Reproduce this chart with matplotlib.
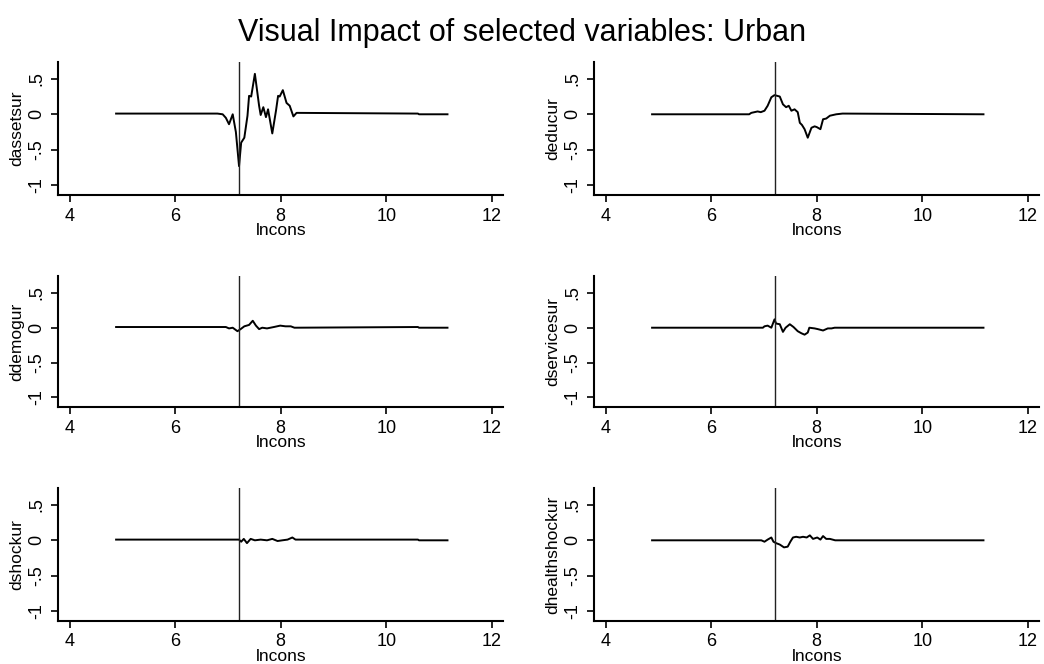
import numpy as np
import matplotlib.pyplot as plt

plt.rcParams['font.family'] = ['Liberation Sans', 'DejaVu Sans']

# 읽어낸 곡선 값 (lncons, 변수값)
dassetsur_x = [4.88, 6.80, 6.90, 6.96, 7.02, 7.09, 7.15, 7.21, 7.25, 7.31, 7.37, 7.40, 7.44,
               7.51, 7.59, 7.62, 7.67, 7.72, 7.76, 7.84, 7.91, 7.95, 7.98, 8.04, 8.11,
               8.17, 8.24, 8.30, 10.60, 10.62, 11.16]
dassetsur_y = [0.01, 0.01, 0.0, -0.05, -0.14, 0.0, -0.25, -0.73, -0.40, -0.33, -0.02, 0.26, 0.25,
               0.57, 0.12, -0.01, 0.10, -0.04, 0.07, -0.27, 0.05, 0.26, 0.25, 0.34, 0.16,
               0.12, -0.03, 0.02, 0.01, 0.0, 0.0]

deducur_x = [4.88, 6.72, 6.76, 6.82, 6.88, 6.94, 7.01, 7.07, 7.14, 7.20, 7.30, 7.36, 7.42,
             7.47, 7.52, 7.58, 7.64, 7.68, 7.72, 7.77, 7.83, 7.90, 7.96, 8.00, 8.07, 8.12,
             8.18, 8.25, 8.37, 8.49, 11.16]
deducur_y = [0.0, 0.0, 0.02, 0.03, 0.04, 0.03, 0.05, 0.12, 0.24, 0.27, 0.25, 0.14, 0.10,
             0.12, 0.05, 0.07, 0.03, -0.12, -0.15, -0.21, -0.33, -0.19, -0.17, -0.18, -0.21, -0.07,
             -0.06, -0.02, 0.0, 0.01, 0.0]

ddemogur_x = [4.88, 6.96, 7.02, 7.09, 7.18, 7.24, 7.31, 7.40, 7.47, 7.53, 7.59, 7.65, 7.74,
              7.87, 7.99, 8.09, 8.19, 8.26, 10.60, 10.62, 11.16]
ddemogur_y = [0.01, 0.01, -0.01, 0.0, -0.05, -0.02, 0.02, 0.04, 0.10, 0.03, -0.02, 0.0, -0.01,
              0.01, 0.03, 0.02, 0.02, 0.0, 0.01, 0.0, 0.0]

dservicesur_x = [4.88, 6.98, 7.01, 7.07, 7.14, 7.20, 7.23, 7.30, 7.36, 7.41, 7.49, 7.56, 7.64,
                 7.71, 7.77, 7.83, 7.86, 7.96, 8.02, 8.12, 8.21, 8.28, 8.34, 11.16]
dservicesur_y = [0.0, 0.0, 0.02, 0.03, 0.0, 0.12, 0.06, 0.05, -0.06, 0.0, 0.05, 0.01, -0.05,
                 -0.08, -0.10, -0.07, 0.0, -0.01, -0.02, -0.04, -0.01, -0.01, 0.0, 0.0]

dshockur_x = [4.88, 7.21, 7.25, 7.30, 7.36, 7.43, 7.51, 7.62, 7.74, 7.84, 7.94, 8.03, 8.13,
              8.22, 8.28, 10.60, 10.62, 11.16]
dshockur_y = [0.01, 0.01, -0.02, 0.02, -0.04, 0.02, 0.0, 0.01, 0.0, 0.02, -0.01, 0.0, 0.01,
              0.04, 0.01, 0.01, 0.0, 0.0]

dhealthshockur_x = [4.88, 6.95, 7.01, 7.07, 7.14, 7.18, 7.23, 7.30, 7.38, 7.45, 7.50, 7.55,
                    7.61, 7.68, 7.74, 7.81, 7.87, 7.93, 8.01, 8.07, 8.12, 8.18, 8.25, 8.35, 11.16]
dhealthshockur_y = [0.0, 0.0, -0.02, 0.01, 0.04, -0.02, -0.04, -0.06, -0.10, -0.09, -0.02, 0.04,
                    0.05, 0.04, 0.05, 0.04, 0.07, 0.02, 0.04, 0.01, 0.06, 0.02, 0.02, 0.0, 0.0]

names = ['dassetsur', 'deducur', 'ddemogur', 'dservicesur', 'dshockur', 'dhealthshockur']
xs = [dassetsur_x, deducur_x, ddemogur_x, dservicesur_x, dshockur_x, dhealthshockur_x]
ys = [dassetsur_y, deducur_y, ddemogur_y, dservicesur_y, dshockur_y, dhealthshockur_y]

x_ticks = [4, 6, 8, 10, 12]
y_ticks = [-1, -0.5, 0, 0.5]
y_ticklabels = ['-1', '-.5', '0', '.5']
cut = 7.2

fig = plt.figure(figsize=(10.44, 6.64), dpi=100)
fig.text(0.5, 0.950, 'Visual Impact of selected variables: Urban', ha='center', va='center', fontsize=22)

lefts = [0.0556, 0.569]
rows = [(0.706, 0.201), (0.387, 0.197), (0.065, 0.200)]

for i in range(6):
    b, h = rows[i // 2]
    ax = fig.add_axes([lefts[i % 2], b, 0.4266, h])
    ax.plot(xs[i], ys[i], color='black', lw=1.4)
    ax.axvline(cut, color='#222222', lw=1.0)
    ax.set_xlim(3.78, 12.22)
    ax.set_ylim(-1.14, 0.74)
    ax.set_xticks(x_ticks)
    ax.set_yticks(y_ticks)
    ax.set_yticklabels(y_ticklabels, rotation=90, va='center')
    ax.tick_params(direction='out', length=5, width=1.2, labelsize=13, pad=4)
    ax.set_xlabel('lncons', fontsize=12.5, labelpad=-1)
    ax.set_ylabel(names[i], fontsize=12.5, labelpad=3)
    for s in ['top', 'right']:
        ax.spines[s].set_visible(False)
    for s in ['left', 'bottom']:
        ax.spines[s].set_linewidth(1.5)

plt.savefig('out.png', dpi=100)
